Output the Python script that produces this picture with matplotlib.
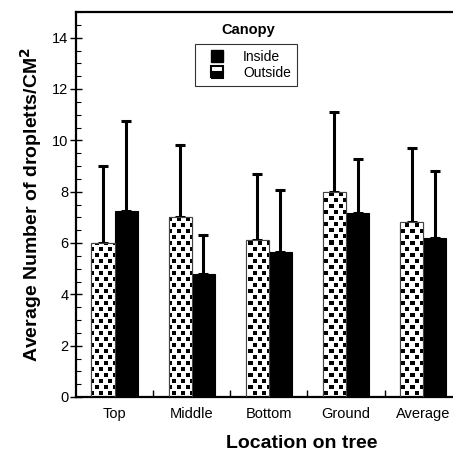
import numpy as np
import matplotlib
matplotlib.use("Agg")
import matplotlib.pyplot as plt
from matplotlib.lines import Line2D

plt.rcParams["font.family"] = ["Liberation Sans", "DejaVu Sans"]

# Data
locations = ["Top", "Middle", "Bottom", "Ground", "Average"]
outside_mean = [6.0, 7.0, 6.1, 8.0, 6.8]
outside_err = [3.0, 2.8, 2.6, 3.1, 2.9]
inside_mean = [7.25, 4.8, 5.65, 7.17, 6.2]
inside_err = [3.5, 1.5, 2.4, 2.1, 2.6]


def square_pattern(h, w):
    # white tile with staggered black squares (the "outside" fill)
    tile = np.ones((12, 18))
    tile[1:5, 1:5] = 0
    tile[1:5, 10:14] = 0
    tile[7:11, 5:9] = 0
    tile[7:11, 14:18] = 0
    reps = (h // 12 + 1, w // 18 + 1)
    return np.tile(tile, reps)[:h, :w]


fig = plt.figure(figsize=(4.53, 4.54), dpi=100)
W, H = 453, 454
ax = fig.add_axes([76 / W, 57 / H, 452 / W, 385 / H])

x = np.arange(len(locations))
bw = 0.3
xlim = (-0.5, 5.36)
ylim = (0, 15)

out_bars = ax.bar(x - bw / 2, outside_mean, bw, color="white",
                  edgecolor="#444444", linewidth=0.8, zorder=2)
in_bars = ax.bar(x + bw / 2, inside_mean, bw, color="black",
                 edgecolor="black", linewidth=0.8, zorder=2)

pattern = square_pattern(385, 452)
for b in out_bars:
    im = ax.imshow(pattern, cmap="gray", vmin=0, vmax=1, extent=(*xlim, *ylim),
                   aspect="auto", interpolation="nearest", zorder=2.5)
    im.set_clip_path(b)
for b in out_bars:
    ax.add_patch(plt.Rectangle(b.get_xy(), b.get_width(), b.get_height(),
                               fill=False, edgecolor="#444444", lw=0.8, zorder=3))

err_kw = dict(fmt="none", ecolor="black", elinewidth=2.2, capsize=3.5,
              capthick=2.2, zorder=1)
ax.errorbar(x - bw / 2, outside_mean, yerr=[np.zeros(5), outside_err], **err_kw)
ax.errorbar(x + bw / 2, inside_mean, yerr=[np.zeros(5), inside_err], **err_kw)

ax.set_xlim(*xlim)
ax.set_ylim(*ylim)

ax.set_xticks(x)
ax.set_xticklabels(locations, fontsize=10.5)
ax.set_xticks(np.arange(0.5, 5, 1), minor=True)
ax.tick_params(axis="x", which="major", length=0, pad=7)
ax.tick_params(axis="x", which="minor", direction="in", length=5, width=1)

ax.set_yticks(np.arange(0, 15, 2))
ax.set_yticks(np.arange(0, 15.01, 0.5), minor=True)
ax.tick_params(axis="y", which="major", direction="inout", length=8, width=1,
               labelsize=10.5, pad=1.5)
ax.tick_params(axis="y", which="minor", direction="in", length=3.5, width=0.8)

for side in ["left", "top", "bottom"]:
    ax.spines[side].set_linewidth(1.6)
ax.spines["right"].set_visible(False)

ax.set_ylabel("Average Number of dropletts/CM$^\\mathbf{2}$", fontsize=14,
              fontweight="bold", labelpad=6)
fig.text(302 / W, 1 - 443 / H, "Location on tree", fontsize=14,
         fontweight="bold", ha="center", va="center")

fig.text(248 / W, 1 - 30 / H, "Canopy", fontsize=10.5, fontweight="bold",
         ha="center", va="center")
handles = [
    Line2D([], [], linestyle="none", marker="s", markersize=9,
           markerfacecolor="black", markeredgecolor="black"),
    Line2D([], [], linestyle="none", marker="s", markersize=8,
           markerfacecolor="black", markerfacecoloralt="white",
           fillstyle="bottom", markeredgecolor="black", markeredgewidth=1.5),
]
leg = ax.legend(handles, ["Inside", "Outside"], loc="upper left",
                bbox_to_anchor=(195 / W, 1 - 44 / H), bbox_transform=fig.transFigure,
                fontsize=10, frameon=True, fancybox=False, borderaxespad=0,
                handlelength=2.2, handletextpad=0.8, labelspacing=0.1,
                borderpad=0.45)
leg.get_frame().set_edgecolor("black")
leg.get_frame().set_linewidth(0.8)

fig.savefig("out.png", dpi=100)
